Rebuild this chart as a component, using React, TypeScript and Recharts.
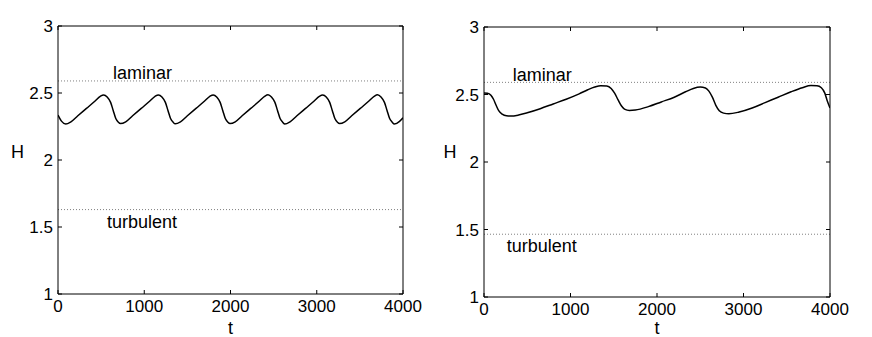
import React from 'react';
import { LineChart, Line, XAxis, YAxis, ReferenceLine } from 'recharts';

const FONT = '"Liberation Sans", Arial, Helvetica, sans-serif';

// ---- data ----
const xTicks = [0, 1000, 2000, 3000, 4000];
const yTicks = [1, 1.5, 2, 2.5, 3];

const leftT = [
  0, 40, 90, 150, 230, 330, 430, 490, 530, 570, 610, 640, 670, 700,
  725, 785, 865, 965, 1065, 1125, 1165, 1205, 1245, 1275, 1305, 1335,
  1360, 1420, 1500, 1600, 1700, 1760, 1800, 1840, 1880, 1910, 1940, 1970,
  1995, 2055, 2135, 2235, 2335, 2395, 2435, 2475, 2515, 2545, 2575, 2605,
  2630, 2690, 2770, 2870, 2970, 3030, 3070, 3110, 3150, 3180, 3210, 3240,
  3265, 3325, 3405, 3505, 3605, 3665, 3705, 3745, 3785, 3815, 3845, 3875,
  3900, 3960, 4000,
];
const leftH = [
  2.335, 2.29, 2.268, 2.285, 2.33, 2.385, 2.44, 2.475, 2.486, 2.47, 2.43, 2.37, 2.31, 2.282,
  2.272, 2.285, 2.33, 2.385, 2.44, 2.475, 2.486, 2.47, 2.43, 2.37, 2.31, 2.282,
  2.27, 2.285, 2.33, 2.385, 2.44, 2.475, 2.486, 2.47, 2.43, 2.37, 2.31, 2.282,
  2.272, 2.285, 2.33, 2.385, 2.44, 2.475, 2.487, 2.47, 2.43, 2.37, 2.31, 2.282,
  2.268, 2.285, 2.33, 2.385, 2.44, 2.475, 2.485, 2.47, 2.43, 2.37, 2.31, 2.282,
  2.272, 2.285, 2.33, 2.385, 2.44, 2.475, 2.487, 2.47, 2.43, 2.37, 2.31, 2.282,
  2.268, 2.288, 2.315,
];

const rightT = [
  0, 40, 80, 110, 140, 170, 210, 260, 310, 400, 500, 650, 800, 950, 1100,
  1200, 1280, 1350, 1420, 1470, 1510, 1550, 1590, 1630, 1680, 1750, 1900,
  2050, 2200, 2330, 2420, 2500, 2560, 2600, 2640, 2680, 2720, 2770, 2830,
  2950, 3100, 3250, 3400, 3550, 3680, 3780, 3850, 3900, 3940, 3970, 4000,
];
const rightH = [
  2.512, 2.51, 2.495, 2.465, 2.42, 2.38, 2.355, 2.342, 2.34, 2.348, 2.365, 2.395, 2.43, 2.465, 2.505,
  2.535, 2.555, 2.565, 2.563, 2.545, 2.51, 2.46, 2.415, 2.39, 2.382, 2.385, 2.41,
  2.445, 2.48, 2.52, 2.545, 2.555, 2.548, 2.525, 2.48, 2.42, 2.38, 2.362, 2.357,
  2.37, 2.4, 2.44, 2.48, 2.52, 2.55, 2.566, 2.565, 2.55, 2.51, 2.45, 2.4,
];

const leftLaminar = 2.59;
const leftTurbulent = 1.63;
const rightLaminar = 2.59;
const rightTurbulent = 1.465;

type PanelProps = {
  t: number[];
  h: number[];
  laminar: number;
  turbulent: number;
  left: number;
  width: number;
  top: number;
  right: number;
  yAxisW: number;
  xAxisH: number;
  hX: number;
  hDy: number;
  lamDx: number;
  turbDx: number;
};

function Panel(p: PanelProps) {
  const data = p.t.map((v, i) => ({ t: v, H: p.h[i] }));
  const tickStyle = { fill: '#000', fontSize: 17, fontFamily: FONT };
  const axisProps = {
    stroke: '#000',
    axisLine: { stroke: '#000', strokeWidth: 1 },
    tickLine: { stroke: '#000', strokeWidth: 1 },
  };
  return (
    <div style={{ position: 'absolute', left: p.left, top: 0 }}>
      <LineChart
        width={p.width}
        height={337}
        data={data}
        margin={{ top: p.top - 1, right: p.right - 1, bottom: 0, left: 0 }}
      >
        <XAxis
          xAxisId="b"
          dataKey="t"
          type="number"
          domain={[0, 4000]}
          ticks={xTicks}
          interval={0}
          allowDataOverflow
          orientation="bottom"
          height={p.xAxisH}
          tickSize={-4}
          tickMargin={10}
          tick={tickStyle}
          {...axisProps}
          label={(lp: any) => {
            const vb = lp.viewBox;
            return (
              <text
                x={vb.x + vb.width / 2}
                y={vb.y + vb.height - 3}
                textAnchor="middle"
                fontSize={18}
                fontFamily={FONT}
                fill="#000"
              >
                t
              </text>
            );
          }}
        />
        <XAxis
          xAxisId="tp"
          dataKey="t"
          type="number"
          domain={[0, 4000]}
          ticks={xTicks}
          interval={0}
          allowDataOverflow
          orientation="top"
          height={1}
          tickSize={-4}
          tickFormatter={() => ''}
          {...axisProps}
        />
        <YAxis
          yAxisId="l"
          type="number"
          domain={[1, 3]}
          ticks={yTicks}
          interval={0}
          allowDataOverflow
          width={p.yAxisW}
          tickSize={-4}
          tickMargin={9}
          tick={tickStyle}
          {...axisProps}
          label={(lp: any) => {
            const vb = lp.viewBox;
            return (
              <text
                x={vb.x + p.hX}
                y={vb.y + vb.height / 2 + p.hDy}
                textAnchor="middle"
                fontSize={18}
                fontFamily={FONT}
                fill="#000"
              >
                H
              </text>
            );
          }}
        />
        <YAxis
          yAxisId="r"
          orientation="right"
          type="number"
          domain={[1, 3]}
          ticks={yTicks}
          interval={0}
          allowDataOverflow
          width={1}
          tickSize={-4}
          tickFormatter={() => ''}
          {...axisProps}
        />
        <ReferenceLine
          xAxisId="b"
          yAxisId="l"
          y={p.laminar}
          stroke="#808080"
          strokeDasharray="1 2"
          label={(lp: any) => {
            const vb = lp.viewBox;
            return (
              <text x={vb.x + p.lamDx} y={vb.y - 1.5} fontSize={18} fontFamily={FONT} fill="#000">
                laminar
              </text>
            );
          }}
        />
        <ReferenceLine
          xAxisId="b"
          yAxisId="l"
          y={p.turbulent}
          stroke="#808080"
          strokeDasharray="1 2"
          label={(lp: any) => {
            const vb = lp.viewBox;
            return (
              <text x={vb.x + p.turbDx} y={vb.y + 18} fontSize={18} fontFamily={FONT} fill="#000">
                turbulent
              </text>
            );
          }}
        />
        <Line
          xAxisId="b"
          yAxisId="l"
          dataKey="H"
          type="monotone"
          stroke="#000"
          strokeWidth={1.5}
          dot={false}
          activeDot={false}
          isAnimationActive={false}
        />
      </LineChart>
    </div>
  );
}

export default function App() {
  return (
    <div
      style={{
        position: 'absolute',
        left: 0,
        top: 0,
        width: 872,
        height: 337,
        background: '#fff',
        overflow: 'hidden',
      }}
    >
      <Panel
        t={leftT}
        h={leftH}
        laminar={leftLaminar}
        turbulent={leftTurbulent}
        left={0}
        width={436}
        top={26}
        right={33}
        yAxisW={58}
        xAxisH={43}
        hX={17.5}
        hDy={-2.5}
        lamDx={55}
        turbDx={49}
      />
      <Panel
        t={rightT}
        h={rightH}
        laminar={rightLaminar}
        turbulent={rightTurbulent}
        left={436}
        width={436}
        top={27}
        right={42}
        yAxisW={48}
        xAxisH={40}
        hX={14}
        hDy={-4.5}
        lamDx={28.7}
        turbDx={22.7}
      />
    </div>
  );
}
